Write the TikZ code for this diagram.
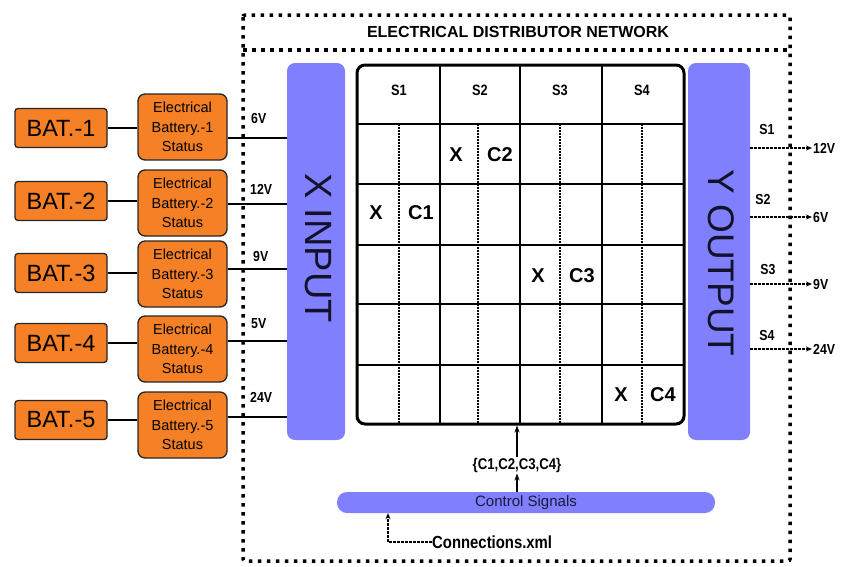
\documentclass[tikz,border=0pt]{standalone}
\usepackage{fontspec}
\setmainfont{Liberation Sans}
\newfontfamily\condsf[FakeStretch=0.85]{Liberation Sans}
\usetikzlibrary{arrows.meta,calc}

\definecolor{batorange}{RGB}{245,128,38}
\definecolor{busblue}{RGB}{128,128,255}
\definecolor{inkblue}{RGB}{25,25,60}

\tikzset{
  batbox/.style={draw=black!85, line width=1.3pt, fill=batorange, rounded corners=3pt,
    minimum width=92pt, minimum height=39pt, inner sep=0pt,
    font=\fontsize{23.5pt}{23.5pt}\selectfont},
  statusbox/.style={draw=black!85, line width=1.3pt, fill=batorange, rounded corners=7pt,
    minimum width=89pt, minimum height=66pt, inner sep=0pt, align=center,
    font=\fontsize{14.5pt}{19.5pt}\selectfont},
  busbar/.style={fill=busblue, rounded corners=8pt, inner sep=0pt},
  bustext/.style={rotate=-90, inner sep=0pt, text=inkblue!70!black},
  framedots/.style={line width=3.5pt, dash pattern=on 3.5pt off 5.5pt},
  smalllabel/.style={inner sep=1pt, font=\condsf\bfseries\fontsize{14.5pt}{14.5pt}\selectfont},
  headlabel/.style={inner sep=0pt, font=\condsf\bfseries\fontsize{15pt}{15pt}\selectfont},
  celllabel/.style={inner sep=0pt, font=\bfseries\fontsize{20pt}{20pt}\selectfont},
  wire/.style={line width=2.5pt},
  feed/.style={line width=1.6pt},
  outwire/.style={line width=1.6pt, dash pattern=on 3pt off 1pt, -{Stealth[length=6pt,width=5pt]}},
  ctrlarrow/.style={line width=2.2pt, -{Stealth[length=7pt,width=5pt]}},
  crossdash/.style={line width=2pt, dash pattern=on 2pt off 1pt},
}

\begin{document}
\begin{tikzpicture}[x=1pt,y=-1pt]
\useasboundingbox (0,0) rectangle (845,566);

% network frame and title strip
\draw[framedots, rounded corners=2pt] (243,15) rectangle (790,561);
\draw[framedots] (243,50) -- (790,50);
\node[inner sep=0pt, font=\bfseries\fontsize{16pt}{16pt}\selectfont] (title) at (518,32) {ELECTRICAL DISTRIBUTOR NETWORK};

% input and output bus bars
\node[busbar, minimum width=58pt, minimum height=377pt] (xin) at (316,251.5) {};
\node[busbar, minimum width=62pt, minimum height=377pt] (yout) at (719,251.5) {};
\node[bustext, font=\fontsize{38pt}{38pt}\selectfont] (xintext) at (318,248) {X INPUT};
\node[bustext, font=\fontsize{37pt}{37pt}\selectfont] (youttext) at (721,263) {Y OUTPUT};

% batteries and their status blocks
\node[batbox] (b1) at (61,128) {BAT.-1};
\node[batbox] (b2) at (61,201) {BAT.-2};
\node[batbox] (b3) at (61,273) {BAT.-3};
\node[batbox] (b4) at (61,343) {BAT.-4};
\node[batbox] (b5) at (61,420) {BAT.-5};

\node[statusbox] (s1) at (182.5,127) {Electrical\\Battery.-1\\Status};
\node[statusbox] (s2) at (182.5,203) {Electrical\\Battery.-2\\Status};
\node[statusbox] (s3) at (182.5,274) {Electrical\\Battery.-3\\Status};
\node[statusbox] (s4) at (182.5,349) {Electrical\\Battery.-4\\Status};
\node[statusbox] (s5) at (182.5,425) {Electrical\\Battery.-5\\Status};

\foreach \i in {1,...,5}{
  \draw[wire] (b\i.east) -- (s\i.west |- b\i.east);
}

% feeds into the input bus
\coordinate (in1) at (xin.west |- 0,138);
\coordinate (in2) at (xin.west |- 0,204);
\coordinate (in3) at (xin.west |- 0,269);
\coordinate (in4) at (xin.west |- 0,341);
\coordinate (in5) at (xin.west |- 0,417);
\foreach \i in {1,...,5}{
  \draw[feed] (s\i.east |- in\i) -- (in\i);
}
\node[smalllabel, anchor=west] (v1) at (250,119) {6V};
\node[smalllabel, anchor=west] (v2) at (249,189) {12V};
\node[smalllabel, anchor=west] (v3) at (252,256) {9V};
\node[smalllabel, anchor=west] (v4) at (250,324) {5V};
\node[smalllabel, anchor=west] (v5) at (249,397) {24V};

% crossbar switch matrix
\node[draw, line width=3pt, rounded corners=8pt, minimum width=327pt, minimum height=359pt, inner sep=0pt] (grid) at (520.5,244.5) {};
\foreach \x in {440,520,602}{
  \draw[line width=2pt] (\x,65) -- (\x,424);
}
\foreach \y in {124,184,245,304,365}{
  \draw[line width=2pt] (357,\y) -- (684,\y);
}
\foreach \x in {399,478,560,642}{
  \draw[crossdash] (\x,124) -- (\x,424);
}
\node[headlabel] (h1) at (399,90) {S1};
\node[headlabel] (h2) at (480,90) {S2};
\node[headlabel] (h3) at (560,90) {S3};
\node[headlabel] (h4) at (642,90) {S4};

\node[celllabel] (x1) at (376,213) {X};
\node[celllabel] (c1) at (421,213) {C1};
\node[celllabel] (x2) at (456,155) {X};
\node[celllabel] (c2) at (500,155) {C2};
\node[celllabel] (x3) at (538,276) {X};
\node[celllabel] (c3) at (582,276) {C3};
\node[celllabel] (x4) at (621,395) {X};
\node[celllabel] (c4) at (663,395) {C4};

% outputs
\node[smalllabel, anchor=west] (o1) at (812,148) {12V};
\node[smalllabel, anchor=west] (o2) at (812,217) {6V};
\node[smalllabel, anchor=west] (o3) at (812,284) {9V};
\node[smalllabel, anchor=west] (o4) at (812,349) {24V};
\foreach \i in {1,...,4}{
  \draw[outwire] (yout.east |- o\i.west) -- (o\i.west);
}
\node[smalllabel] (os1) at (767,130) {S1};
\node[smalllabel] (os2) at (763,200) {S2};
\node[smalllabel] (os3) at (768,270) {S3};
\node[smalllabel] (os4) at (767,335) {S4};

% control path
\node[busbar, rounded corners=10pt, minimum width=378pt, minimum height=21pt,
  font=\fontsize{15pt}{15pt}\selectfont, text=inkblue] (ctrl) at (526,502.5) {Control Signals};
\node[inner sep=1pt, font=\condsf\bfseries\fontsize{15.5pt}{15.5pt}\selectfont] (sig) at (517,465) {\{C1,C2,C3,C4\}};
\draw[ctrlarrow] (sig.north) -- (sig.north |- grid.south);
\draw[ctrlarrow] (sig.south |- ctrl.north) -- (sig.south);

\node[inner sep=0pt, anchor=west, font=\condsf\bfseries\fontsize{17.5pt}{17.5pt}\selectfont] (xml) at (432,542) {Connections.xml};
\coordinate (xmlturn) at (388,542);
\draw[line width=2pt, dash pattern=on 3pt off 1pt, -{Stealth[length=6pt,width=5pt]}]
  (xml.west) -- (xmlturn) -- (xmlturn |- ctrl.south);

\end{tikzpicture}
\end{document}
